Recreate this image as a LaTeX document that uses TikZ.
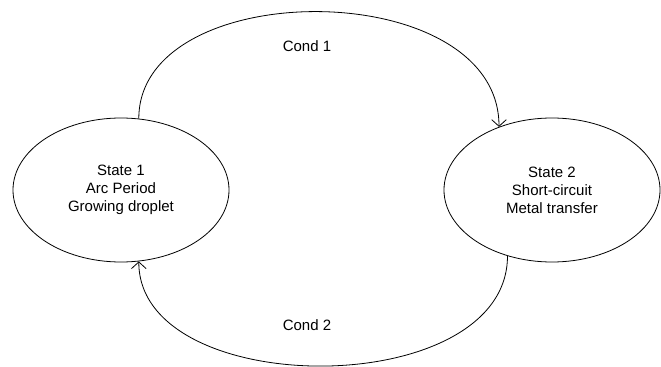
\documentclass[tikz,border=0pt]{standalone}
\usepackage{fontspec}
\setmainfont{Liberation Sans}
\usetikzlibrary{shapes, arrows.meta, calc, positioning}

\begin{document}
\begin{tikzpicture}[x=0.75pt,y=-0.75pt,line width=0.6pt,>={Straight Barb[length=5pt,width=11pt]}]
            \useasboundingbox (0,0) rectangle (661,367);
            \begin{scope}[font=\fontsize{11.25}{13.5}\selectfont]
            \tikzstyle{every node}=[align=center]
            \tikzstyle{state}=[draw,shape=ellipse,inner sep=0pt,minimum width=162pt,minimum height=108pt]

            \node[state] (s_1) at (121,190) {State 1\\Arc Period\\Growing droplet};
            \node[state] (s_2) at (552,190) {State 2\\Short-circuit\\Metal transfer};

            \node (c_1) at (307,46) {Cond 1};
            \node (c_2) at (307,325) {Cond 2};

            \draw [->] (s_1.76) .. controls +(0,-144) and +(0,-152) .. (s_2.130);
            \draw [->] (s_2.236) .. controls +(0,146) and +(0,140) .. (s_1.284);

            \end{scope}
        \end{tikzpicture}
\end{document}
